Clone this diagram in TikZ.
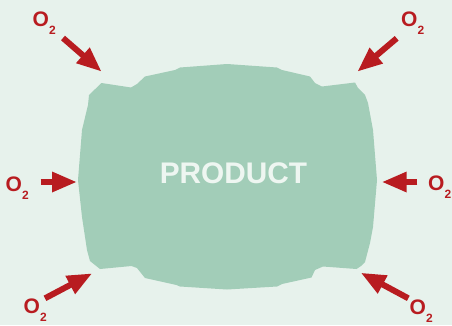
\documentclass[tikz,border=0pt]{standalone}
\usepackage{fontspec}
\setmainfont{Liberation Sans}
\usetikzlibrary{arrows.meta}
\definecolor{bgc}{HTML}{E7F2EC}
\definecolor{blobc}{HTML}{A2CDB8}
\definecolor{redc}{HTML}{B81C20}
\definecolor{txtc}{HTML}{EEF6F1}
\tikzset{
  lab/.style={inner sep=0pt, anchor=base west, text=redc, font=\fontsize{21}{21}\selectfont\bfseries},
  oxarrow/.style={draw=redc, line width=6pt, -{Triangle[length=25pt,width=19pt]}},
}
\newcommand{\oxy}{O\raisebox{-8pt}{\fontsize{12}{12}\selectfont 2}}
\begin{document}
\begin{tikzpicture}[x=1pt,y=-1pt]
\fill[bgc] (0,0) rectangle (452,325);
\useasboundingbox (0,0) rectangle (452,325);
\fill[blobc] (101.5,83) -- (131,87.5) -- (137,84) -- (145,76.5) -- (175,70) -- (180,67.5)
 -- (227,64) -- (277,67.5) -- (282,70) -- (310,76.5) -- (315,83) -- (322,86.5)
 -- (355,82.5) -- (358,88) -- (365,95) -- (368,103) -- (373,130) -- (377,180)
 -- (373,227) -- (370,243) -- (365,262) -- (361,266) -- (356.5,269) -- (323,266.5)
 -- (315,270) -- (311.5,277.5) -- (282,284) -- (277,286.5) -- (227,289.5)
 -- (180,286.5) -- (176.5,285) -- (145,278) -- (137,268) -- (131.5,266)
 -- (100,269) -- (95,265) -- (90,261) -- (87,250) -- (82,217) -- (78,180)
 -- (82,130) -- (88,105) -- (89,95) -- cycle;
\node[inner sep=0pt, anchor=base, text=txtc, font=\fontsize{29.8}{30}\selectfont\bfseries] (prod) at (233.5,183.3) {PRODUCT};
% labels
\node[lab] (ltl) at (32.5,26) {\oxy};
\node[lab] (ltr) at (401,26) {\oxy};
\node[lab] (ll) at (5.5,191) {\oxy};
\node[lab] (lr) at (428,190.5) {\oxy};
\node[lab] (lbl) at (23.5,313.5) {\oxy};
\node[lab] (lbr) at (409.5,314) {\oxy};
% arrow ends
\coordinate (s1) at (63,38);   \coordinate (t1) at (101.7,71.7);
\coordinate (s2) at (396.7,38.3); \coordinate (t2) at (357.3,71.7);
\coordinate (s3) at (40.7,182); \coordinate (t3) at (77,182);
\coordinate (s4) at (417.3,182); \coordinate (t4) at (381.7,182);
\coordinate (s5) at (45,298.3); \coordinate (t5) at (92.3,273.3);
\coordinate (s6) at (408.3,298.3); \coordinate (t6) at (360.7,272.7);
\draw[oxarrow] (s1) -- (t1);
\draw[oxarrow] (s2) -- (t2);
\draw[oxarrow] (s3) -- (t3);
\draw[oxarrow] (s4) -- (t4);
\draw[oxarrow] (s5) -- (t5);
\draw[oxarrow] (s6) -- (t6);
\end{tikzpicture}
\end{document}
